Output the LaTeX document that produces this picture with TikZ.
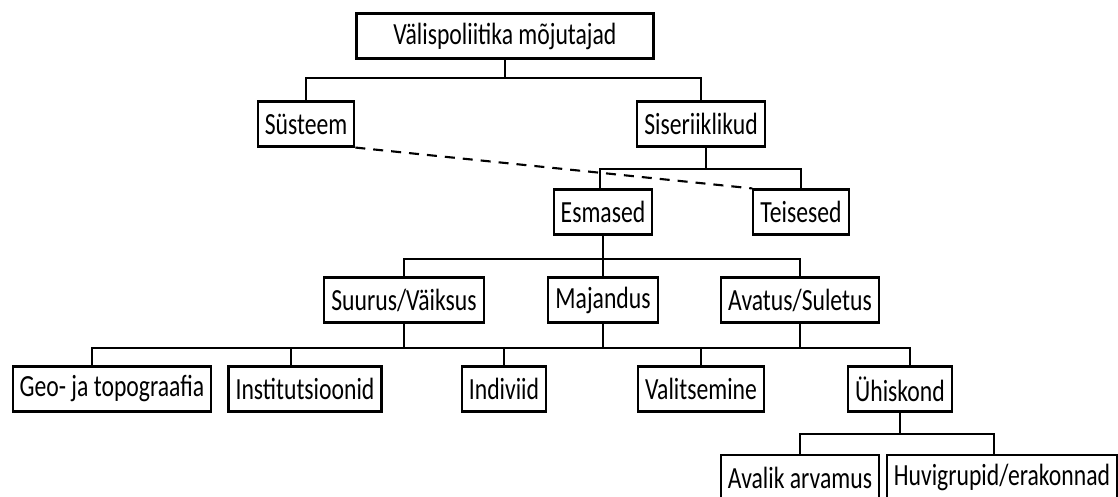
\documentclass[tikz,border=0pt]{standalone}
\usepackage{fontspec}
\setmainfont{Carlito}[FakeStretch=0.77]

\begin{document}
\begin{tikzpicture}[main node/.style={rectangle,very thick,draw,minimum height=0.9cm,inner xsep=4pt,font=\fontsize{17.5}{20}\selectfont}, link/.style={-,very thick}]
\useasboundingbox (0,0) rectangle (22.36,-9.94);

\node[main node,minimum width=5.94cm] (mojutajad) at (10.1,-0.72) {Välispoliitika mõjutajad};
\node[main node] (systeem) at (6.12,-2.48) {Süsteem};
\node[main node] (sise) at (14.02,-2.48) {Siseriiklikud};
\node[main node] (esmased) at (12.06,-4.24) {Esmased};
\node[main node] (teisesed) at (16.02,-4.24) {Teisesed};
\node[main node] (suurus) at (8.08,-6.0) {Suurus/Väiksus};
\node[main node] (majandus) at (12.06,-6.0) {Majandus};
\node[main node] (avatus) at (16.0,-6.0) {Avatus/Suletus};
\node[main node] (geo) at (2.24,-7.78) {Geo- ja topograafia};
\node[main node] (inst) at (6.1,-7.78) {Institutsioonid};
\node[main node] (indiviid) at (10.08,-7.78) {Indiviid};
\node[main node] (valitsemine) at (14.02,-7.78) {Valitsemine};
\node[main node] (uhiskond) at (18.0,-7.78) {Ühiskond};
\node[main node] (avalik) at (16.0,-9.55) {Avalik arvamus};
\node[main node] (huvi) at (20.04,-9.55) {Huvigrupid/erakonnad};


\draw[link] (mojutajad.south) -- ++(0,-0.37) -| (systeem.north);
\draw[link] (mojutajad.south) -- ++(0,-0.37) -| (sise.north);

\draw[link] ([xshift=0.1cm]sise.south) -- ++(0,-0.43) -| ([xshift=-0.06cm]esmased.north);
\draw[link] ([xshift=0.1cm]sise.south) -- ++(0,-0.43) -| (teisesed.north);

\draw[link] (esmased.south) -- ++(0,-0.47) -| (suurus.north);
\draw[link] (esmased.south) -- ++(0,-0.47) -| (majandus.north);
\draw[link] (esmased.south) -- ++(0,-0.47) -| (avatus.north);

\draw[link] (suurus.south) -- ++(0,-0.49) -| ([xshift=-0.4cm]geo.north);
\draw[link] (suurus.south) -- ++(0,-0.49) -| ([xshift=-0.28cm]inst.north);
\draw[link] (suurus.south) -- ++(0,-0.49) -| (indiviid.north);
\draw[link] (majandus.south) -- ++(0,-0.49) -| (indiviid.north);
\draw[link] (majandus.south) -- ++(0,-0.49) -| (valitsemine.north);
\draw[link] (avatus.south) -- ++(0,-0.49) -| (valitsemine.north);
\draw[link] (avatus.south) -- ++(0,-0.49) -| ([xshift=0.2cm]uhiskond.north);

\draw[link] (uhiskond.south) -- ++(0,-0.43) -| (avalik.north);
\draw[link] (uhiskond.south) -- ++(0,-0.43) -| ([xshift=-0.16cm]huvi.north);

% dashed link
\draw[link,dash pattern=on 0.2cm off 0.16cm] (systeem.south east) -- (teisesed.north west);
\end{tikzpicture}
\end{document}
